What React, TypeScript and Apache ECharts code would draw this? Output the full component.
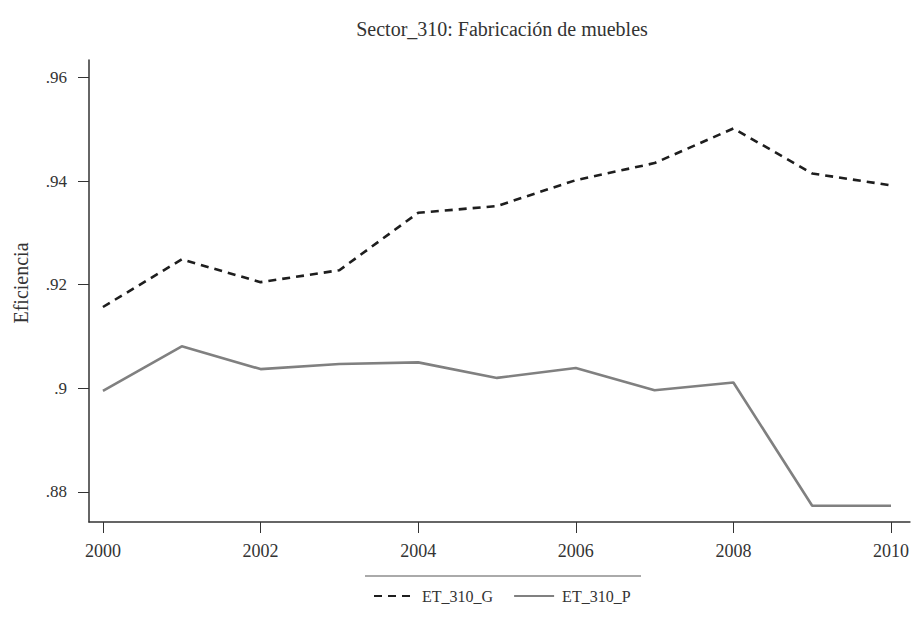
import React, { useEffect, useRef } from "react";
import * as echarts from "echarts";

const years = [2000, 2001, 2002, 2003, 2004, 2005, 2006, 2007, 2008, 2009, 2010];
const seriesG = [0.9157, 0.9249, 0.9205, 0.9228, 0.9339, 0.9352, 0.9402, 0.9435, 0.9502, 0.9415, 0.9392];
const seriesP = [0.8995, 0.9081, 0.9037, 0.9047, 0.905, 0.902, 0.9039, 0.8996, 0.9011, 0.8773, 0.8773];
const xTicks = [2000, 2002, 2004, 2006, 2008, 2010];
const yTicks = [0.88, 0.9, 0.92, 0.94, 0.96];
const yTickLabels = [".88", ".9", ".92", ".94", ".96"];
const titleText = "Sector_310: Fabricación de muebles";
const yAxisTitle = "Eficiencia";
const nameG = "ET_310_G";
const nameP = "ET_310_P";

const FONT = "Liberation Serif";

export default function App() {
  const ref = useRef<HTMLDivElement>(null);
  useEffect(() => {
    if (!ref.current) return;
    const chart = echarts.init(ref.current, undefined, { renderer: "svg" });
    const option: any = {
      animation: false,
      backgroundColor: "#ffffff",
      textStyle: { fontFamily: FONT },
      title: {
        text: titleText,
        left: 502,
        top: 19,
        textAlign: "center",
        padding: 0,
        textStyle: { fontFamily: FONT, fontSize: 20, fontWeight: "normal", color: "#333" },
      },
      grid: { left: 89, right: 0, top: 60, bottom: 102 },
      legend: {
        top: 588,
        left: 373,
        padding: 0,
        itemWidth: 40,
        itemHeight: 10,
        itemGap: 20,
        itemStyle: { opacity: 0 },
        textStyle: { fontFamily: FONT, fontSize: 16, color: "#333", padding: [0, 0, 0, 3] },
        data: [nameG, nameP],
      },
      xAxis: {
        type: "value",
        min: 1999.823,
        max: 2010.24,
        axisLine: { lineStyle: { color: "#333", width: 1.5 } },
        axisTick: { show: true, length: 11, lineStyle: { color: "#333", width: 1 }, customValues: xTicks },
        axisLabel: {
          customValues: xTicks,
          margin: 20,
          fontFamily: FONT,
          fontSize: 18,
          color: "#333",
          formatter: (v: number) => String(v),
        },
        splitLine: { show: false },
      },
      yAxis: {
        type: "value",
        min: 0.87416,
        max: 0.96342,
        axisLine: { show: true, lineStyle: { color: "#333", width: 1.5 } },
        axisTick: { show: true, length: 11, lineStyle: { color: "#333", width: 1 }, customValues: yTicks },
        axisLabel: {
          customValues: yTicks,
          margin: 22,
          fontFamily: FONT,
          fontSize: 17,
          color: "#333",
          formatter: (v: number) => {
            const i = yTicks.findIndex((t) => Math.abs(t - v) < 1e-6);
            return i >= 0 ? yTickLabels[i] : "";
          },
        },
        splitLine: { show: false },
      },
      graphic: [
        {
          type: "line",
          shape: { x1: 365, y1: 576, x2: 641, y2: 576 },
          style: { stroke: "#aaaaaa", lineWidth: 2 },
        },
        {
          type: "text",
          x: 21,
          y: 283,
          rotation: Math.PI / 2,
          style: {
            text: yAxisTitle,
            fontFamily: FONT,
            fontSize: 20,
            fill: "#333",
            textAlign: "center",
            textVerticalAlign: "middle",
          },
        },
      ],
      series: [
        {
          name: nameG,
          type: "line",
          symbol: "none",
          data: years.map((y, i) => [y, seriesG[i]]),
          lineStyle: { color: "#1e1e1e", width: 2.6, type: [8, 6] },
          itemStyle: { color: "#1e1e1e" },
        },
        {
          name: nameP,
          type: "line",
          symbol: "none",
          data: years.map((y, i) => [y, seriesP[i]]),
          lineStyle: { color: "#808080", width: 2.6 },
          itemStyle: { color: "#808080" },
        },
      ],
    };
    chart.setOption(option);
    return () => chart.dispose();
  }, []);
  return <div ref={ref} style={{ position: "absolute", left: 0, top: 0, width: 912, height: 624 }} />;
}
